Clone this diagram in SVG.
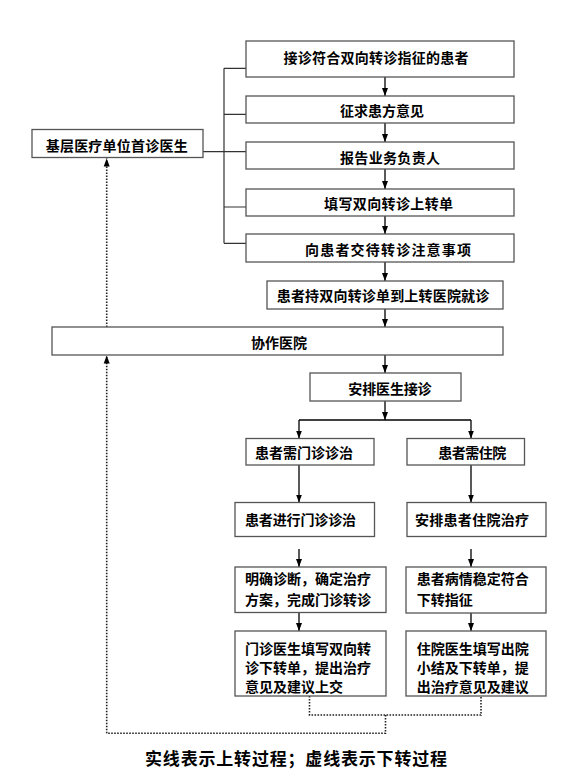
<svg xmlns="http://www.w3.org/2000/svg" width="579" height="776" viewBox="0 0 579 776">
<style>
.box{fill:#fff;stroke:#555;stroke-width:1.3}
.t{font-family:"Noto Sans CJK SC","Liberation Sans",sans-serif;font-size:14px;font-weight:700;fill:#000;dominant-baseline:central}
.cap{font-family:"Noto Sans CJK SC","Liberation Sans",sans-serif;font-size:17px;font-weight:700;fill:#000;dominant-baseline:central}
.ln{fill:none;stroke:#333;stroke-width:1.2}
.ar{fill:none;stroke:#000;stroke-width:1.3;marker-end:url(#ah)}
.dt{fill:none;stroke:#222;stroke-width:1.6;stroke-dasharray:1.6 1.4}
.dta{fill:none;stroke:#222;stroke-width:1.6;stroke-dasharray:1.6 1.4;marker-end:url(#ah)}
</style>
<defs>
<marker id="ah" markerWidth="8" markerHeight="8" viewBox="0 0 8 8" refX="8" refY="4" orient="auto" markerUnits="userSpaceOnUse">
<path d="M0,1 L8,4 L0,7 Z" fill="#000"/>
</marker>
</defs>
<rect width="579" height="776" fill="#fff"/>
<g id="connectors">
<path class="ln" d="M203,151.7 H224 M224,68.3 V243.3 M224,68.3 H246 M224,114.3 H246 M224,151.7 H246 M224,207 H246 M224,243.3 H246"/>
<path class="ar" d="M385,77 V96"/>
<path class="ar" d="M385,123 V142"/>
<path class="ar" d="M385,169 V189"/>
<path class="ar" d="M385,216 V234"/>
<path class="ar" d="M385,262 V281"/>
<path class="ar" d="M385,309 V327"/>
<path class="ar" d="M385,355 V373"/>
<path class="ar" d="M385,401 V420"/>
<path class="ln" d="M299,420 H471" style="stroke:#000;stroke-width:1.3"/>
<path class="ar" d="M299,420 V438.5"/>
<path class="ar" d="M471,420 V438.5"/>
<path class="ar" d="M299,465 V502.5"/>
<path class="ar" d="M471,465 V502.5"/>
<path class="ar" d="M299,549 V567"/>
<path class="ar" d="M471,549 V567"/>
<path class="ar" d="M299,612.5 V631"/>
<path class="ar" d="M471,613 V631"/>
<path class="dt" d="M309.5,696 V715 H481 V696 M385.5,715 V733.3 H106.7"/>
<path class="dta" d="M106.7,733.3 V355.5"/>
<path class="dta" d="M106.7,327 V158.5"/>
</g>
<g id="n1"><rect class="box" x="246" y="41" width="268" height="36"/><text class="t" x="283.5" y="57" textLength="185" lengthAdjust="spacing">接诊符合双向转诊指征的患者</text></g>
<g id="n2"><rect class="box" x="246" y="96" width="268" height="27"/><text class="t" x="340" y="110" textLength="84" lengthAdjust="spacing">征求患方意见</text></g>
<g id="n3"><rect class="box" x="246" y="142" width="268" height="27"/><text class="t" x="340" y="156.5" textLength="100" lengthAdjust="spacing">报告业务负责人</text></g>
<g id="n4"><rect class="box" x="246" y="189" width="268" height="27"/><text class="t" x="324" y="202.5" textLength="129" lengthAdjust="spacing">填写双向转诊上转单</text></g>
<g id="n5"><rect class="box" x="246" y="234" width="268" height="28"/><text class="t" x="305" y="248.5" textLength="166" lengthAdjust="spacing">向患者交待转诊注意事项</text></g>
<g id="src"><rect class="box" x="32" y="129.5" width="171" height="28"/><text class="t" x="45.7" y="145" textLength="142" lengthAdjust="spacing">基层医疗单位首诊医生</text></g>
<g id="n6"><rect class="box" x="267" y="281" width="236" height="28"/><text class="t" x="276.7" y="295" textLength="212.6" lengthAdjust="spacing">患者持双向转诊单到上转医院就诊</text></g>
<g id="hosp"><rect class="box" x="52" y="327" width="451" height="28"/><text class="t" x="251" y="342" textLength="56" lengthAdjust="spacing">协作医院</text></g>
<g id="n7"><rect class="box" x="310" y="373" width="151" height="28"/><text class="t" x="348.3" y="388" textLength="83.3" lengthAdjust="spacing">安排医生接诊</text></g>
<g id="l1"><rect class="box" x="246" y="438.5" width="128" height="26.5"/><text class="t" x="255" y="452" textLength="98" lengthAdjust="spacing">患者需门诊诊治</text></g>
<g id="r1"><rect class="box" x="407" y="438.5" width="117.5" height="26.5"/><text class="t" x="438.3" y="452" textLength="68" lengthAdjust="spacing">患者需住院</text></g>
<g id="l2"><rect class="box" x="235" y="502.5" width="139.5" height="34"/><text class="t" x="245" y="518.5" textLength="111" lengthAdjust="spacing">患者进行门诊诊治</text></g>
<g id="r2"><rect class="box" x="407" y="502.5" width="139" height="34"/><text class="t" x="415" y="518.5" textLength="114" lengthAdjust="spacing">安排患者住院治疗</text></g>
<g id="l3"><rect class="box" x="235" y="567" width="151" height="45.5"/><text class="t" x="245" y="578">明确诊断，确定治疗</text><text class="t" x="245" y="599">方案，完成门诊转诊</text></g>
<g id="r3"><rect class="box" x="406" y="567" width="140" height="46"/><text class="t" x="416.7" y="578">患者病情稳定符合</text><text class="t" x="416.7" y="599">下转指征</text></g>
<g id="l4"><rect class="box" x="235" y="631" width="151" height="65"/><text class="t" x="245" y="647.5">门诊医生填写双向转</text><text class="t" x="245" y="666.5">诊下转单，提出治疗</text><text class="t" x="245" y="685.5">意见及建议上交</text></g>
<g id="r4"><rect class="box" x="406" y="631" width="140" height="65"/><text class="t" x="416.7" y="647.5">住院医生填写出院</text><text class="t" x="416.7" y="666.5">小结及下转单，提</text><text class="t" x="416.7" y="685.5">出治疗意见及建议</text></g>
<text class="cap" x="145" y="757" textLength="302" lengthAdjust="spacing">实线表示上转过程；虚线表示下转过程</text>
</svg>
